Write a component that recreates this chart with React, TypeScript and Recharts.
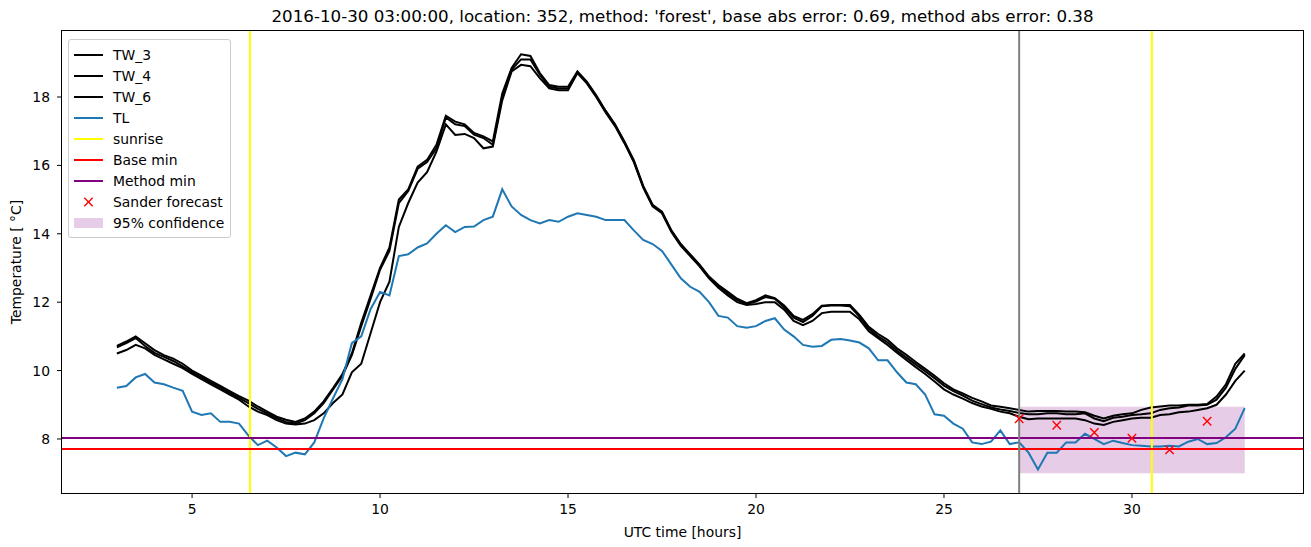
import { ComposedChart, Line, Scatter, XAxis, YAxis, ReferenceLine, ReferenceArea, Legend } from 'recharts';

// time grid, 15 min steps from 03:00 to 33:00
const hours = Array.from({ length: 121 }, (_, i) => 3 + i * 0.25);

const tw3 = [
  10.72, 10.85, 11.0, 10.8, 10.6, 10.45, 10.35, 10.2,
  10.0, 9.85, 9.7, 9.55, 9.4, 9.25, 9.12, 8.95,
  8.8, 8.65, 8.56, 8.5, 8.6, 8.8, 9.1, 9.49,
  9.9, 10.5, 11.4, 12.2, 13.0, 13.6, 15.0, 15.3,
  15.96, 16.16, 16.6, 17.45, 17.28, 17.2, 16.95, 16.85,
  16.7, 18.1, 18.85, 19.25, 19.2, 18.7, 18.35, 18.3,
  18.3, 18.75, 18.45, 18.05, 17.6, 17.2, 16.7, 16.15,
  15.4, 14.85, 14.65, 14.1, 13.7, 13.4, 13.1, 12.75,
  12.5, 12.3, 12.1, 11.97, 12.06, 12.2, 12.12, 11.9,
  11.6, 11.48, 11.65, 11.9, 11.92, 11.92, 11.92, 11.63,
  11.28, 11.07, 10.9, 10.65, 10.46, 10.25, 10.05, 9.85,
  9.63, 9.45, 9.33, 9.2, 9.1, 8.98, 8.94, 8.9,
  8.85, 8.8, 8.82, 8.82, 8.82, 8.8, 8.8, 8.78,
  8.68, 8.6, 8.68, 8.72, 8.75, 8.85, 8.92, 8.95,
  8.98, 8.98, 9.0, 9.0, 9.02, 9.24, 9.6, 10.2, 10.5,
];

const tw4 = [
  10.68, 10.8, 10.95, 10.72, 10.52, 10.4, 10.28, 10.12,
  9.95, 9.8, 9.65, 9.5, 9.35, 9.2, 9.05, 8.88,
  8.75, 8.6, 8.5, 8.45, 8.55, 8.75, 9.05, 9.45,
  9.85, 10.45, 11.3, 12.1, 12.95, 13.5, 14.9, 15.25,
  15.9, 16.1, 16.5, 17.4, 17.2, 17.15, 16.9, 16.8,
  16.6, 18.0, 18.8, 19.1, 19.1, 18.65, 18.3, 18.25,
  18.25, 18.72, 18.42, 18.02, 17.58, 17.18, 16.68, 16.12,
  15.38, 14.82, 14.62, 14.08, 13.68, 13.38, 13.07, 12.72,
  12.47, 12.26, 12.06, 11.95, 12.02, 12.15, 12.1, 11.85,
  11.55, 11.42, 11.6, 11.88, 11.9, 11.9, 11.88, 11.58,
  11.22, 11.0, 10.82, 10.58, 10.38, 10.18, 9.98, 9.78,
  9.56, 9.4, 9.27, 9.12, 9.02, 8.92, 8.86, 8.82,
  8.76, 8.72, 8.72, 8.75, 8.75, 8.72, 8.72, 8.75,
  8.6, 8.52, 8.62, 8.65, 8.7, 8.72, 8.75, 8.85,
  8.9, 8.92, 8.98, 8.98, 9.0, 9.15, 9.5, 10.05, 10.45,
];

const tw6 = [
  10.5, 10.6, 10.75, 10.65, 10.46, 10.33, 10.2, 10.07,
  9.9, 9.75, 9.6, 9.45, 9.3, 9.15, 8.95, 8.8,
  8.7, 8.55, 8.45, 8.42, 8.45, 8.55, 8.75, 9.05,
  9.3, 9.95, 10.2, 11.1, 12.0, 12.6, 14.2, 14.9,
  15.5, 15.8, 16.4, 17.2, 16.89, 16.92, 16.8, 16.5,
  16.55, 17.9, 18.75, 18.94, 18.9, 18.55, 18.25, 18.2,
  18.2, 18.7, 18.4, 18.0, 17.55, 17.15, 16.65, 16.1,
  15.35, 14.8, 14.6, 14.05, 13.65, 13.35, 13.05, 12.7,
  12.42, 12.2, 12.0, 11.92, 11.95, 12.0, 12.0, 11.78,
  11.45, 11.33, 11.45, 11.68, 11.72, 11.72, 11.72, 11.5,
  11.15, 10.95, 10.75, 10.52, 10.31, 10.1, 9.9, 9.68,
  9.45, 9.3, 9.18, 9.05, 8.95, 8.88, 8.8, 8.75,
  8.65, 8.58, 8.6, 8.6, 8.6, 8.6, 8.6, 8.55,
  8.45, 8.41, 8.5, 8.55, 8.6, 8.62, 8.62, 8.7,
  8.72, 8.78, 8.8, 8.85, 8.9, 9.0, 9.3, 9.7, 10.0,
];

const tl = [
  9.5, 9.55, 9.8, 9.9, 9.65, 9.6, 9.5, 9.41,
  8.8, 8.7, 8.75, 8.5, 8.5, 8.45, 8.1, 7.82,
  7.95, 7.75, 7.5, 7.6, 7.55, 7.9, 8.6, 9.19,
  9.75, 10.8, 11.0, 11.8, 12.3, 12.2, 13.35, 13.4,
  13.6, 13.72, 14.0, 14.25, 14.05, 14.2, 14.21, 14.4,
  14.5, 15.3, 14.8, 14.55, 14.4, 14.3, 14.4, 14.35,
  14.5, 14.6, 14.55, 14.5, 14.4, 14.4, 14.4, 14.1,
  13.82, 13.7, 13.5, 13.1, 12.7, 12.45, 12.3, 12.0,
  11.6, 11.55, 11.3, 11.25, 11.3, 11.45, 11.53, 11.2,
  11.0, 10.75, 10.7, 10.72, 10.9, 10.92, 10.88, 10.82,
  10.65, 10.3, 10.3, 9.95, 9.65, 9.6, 9.3, 8.72,
  8.68, 8.45, 8.3, 7.9, 7.85, 7.92, 8.25, 7.85,
  7.9, 7.6, 7.11, 7.6, 7.6, 7.9, 7.9, 8.15,
  8.0, 7.85, 7.95, 7.88, 7.82, 7.8, 7.78, 7.78,
  7.8, 7.78, 7.92, 8.0, 7.85, 7.88, 8.05, 8.3, 8.9,
];

const sanderHours = [27, 28, 29, 30, 31, 32];
const sanderValues = [8.59, 8.4, 8.19, 8.02, 7.68, 8.52];

const sunrises = [6.54, 30.53];
const forecastStart = 27;
const baseMin = 7.71;
const methodMin = 8.03;
const confidence = { x1: 27, x2: 33, low: 7.0, high: 8.94 };

const xTicks = [5, 10, 15, 20, 25, 30];
const yTicks = [8, 10, 12, 14, 16, 18];

const legendItems = [
  { label: 'TW_3', kind: 'line', color: '#000000' },
  { label: 'TW_4', kind: 'line', color: '#000000' },
  { label: 'TW_6', kind: 'line', color: '#000000' },
  { label: 'TL', kind: 'line', color: '#1f77b4' },
  { label: 'sunrise', kind: 'line', color: '#ffff00' },
  { label: 'Base min', kind: 'line', color: '#ff0000' },
  { label: 'Method min', kind: 'line', color: '#800080' },
  { label: 'Sander forecast', kind: 'x', color: '#ff0000' },
  { label: '95% confidence', kind: 'patch', color: '#800080' },
];

const chartData = hours.map((h, i) => ({ h, tw3: tw3[i], tw4: tw4[i], tw6: tw6[i], tl: tl[i] }));
const sanderData = sanderHours.map((h, i) => ({ h, sander: sanderValues[i] }));

const FONT = '"DejaVu Sans", sans-serif';

const XMark = (props: any) => {
  const { cx, cy } = props;
  const r = 4.2;
  return (
    <g stroke="#ff0000" strokeWidth={1.4}>
      <line x1={cx - r} y1={cy - r} x2={cx + r} y2={cy + r} />
      <line x1={cx - r} y1={cy + r} x2={cx + r} y2={cy - r} />
    </g>
  );
};

const renderLegend = () => (
  <div
    style={{
      border: '1px solid #cccccc',
      borderRadius: 3,
      background: 'rgba(255,255,255,0.8)',
      padding: '4px 6px 4px 5px',
      fontFamily: FONT,
      fontSize: 13.9,
      color: '#000',
    }}
  >
    {legendItems.map(item => (
      <div key={item.label} style={{ display: 'flex', alignItems: 'center', height: 21 }}>
        <svg width={29} height={12} style={{ marginRight: 10 }}>
          {item.kind === 'line' && <line x1={0} y1={6} x2={29} y2={6} stroke={item.color} strokeWidth={2} />}
          {item.kind === 'x' && (
            <g stroke={item.color} strokeWidth={1.4}>
              <line x1={10.3} y1={1.8} x2={18.7} y2={10.2} />
              <line x1={10.3} y1={10.2} x2={18.7} y2={1.8} />
            </g>
          )}
          {item.kind === 'patch' && <rect x={0} y={1} width={29} height={10} fill={item.color} fillOpacity={0.2} />}
        </svg>
        <span style={{ whiteSpace: 'nowrap' }}>{item.label}</span>
      </div>
    ))}
  </div>
);

const YLabel = () => (
  <text x={17} y={262} transform="rotate(-90 17 262)" textAnchor="middle" dominantBaseline="middle"
    fontFamily={FONT} fontSize={13.9} fill="#000">
    Temperature [ °C]
  </text>
);

export default function App() {
  const tickStyle = { fontFamily: FONT, fontSize: 13.9, fill: '#000' };
  return (
    <div style={{ position: 'absolute', left: 0, top: 0, width: 1311, height: 547, background: '#fff' }}>
      <div
        style={{
          position: 'absolute', left: 62, top: 6, width: 1241, textAlign: 'center',
          fontFamily: FONT, fontSize: 16.7, lineHeight: '20px', color: '#000', whiteSpace: 'nowrap',
        }}
      >
        2016-10-30 03:00:00, location: 352, method: 'forest', base abs error: 0.69, method abs error: 0.38
      </div>
      <ComposedChart width={1311} height={547} data={chartData} margin={{ top: 31, right: 8, bottom: 0, left: 0 }}>
        <XAxis
          dataKey="h"
          type="number"
          domain={[1.54, 34.55]}
          ticks={xTicks}
          allowDataOverflow
          height={54}
          axisLine={false}
          tickLine={{ stroke: '#000' }}
          tickSize={5}
          tickMargin={6}
          tick={tickStyle}
          label={{ value: 'UTC time [hours]', position: 'insideBottom', offset: 10, style: tickStyle }}
        />
        <YAxis
          type="number"
          domain={[6.42, 19.93]}
          ticks={yTicks}
          allowDataOverflow
          width={62}
          axisLine={false}
          tickLine={{ stroke: '#000' }}
          tickSize={5}
          tickMargin={7}
          tick={tickStyle}
          label={{ content: () => <YLabel /> }}
        />
        <Line dataKey="tw3" stroke="#000" strokeWidth={2} dot={false} isAnimationActive={false} />
        <Line dataKey="tw4" stroke="#000" strokeWidth={2} dot={false} isAnimationActive={false} />
        <Line dataKey="tw6" stroke="#000" strokeWidth={2} dot={false} isAnimationActive={false} />
        <Line dataKey="tl" stroke="#1f77b4" strokeWidth={2} dot={false} isAnimationActive={false} />
        {sunrises.map(s => (
          <ReferenceLine key={s} x={s} stroke="#ffff00" strokeWidth={2} />
        ))}
        <ReferenceLine y={baseMin} stroke="#ff0000" strokeWidth={2} />
        <ReferenceLine y={methodMin} stroke="#800080" strokeWidth={2} />
        <ReferenceLine x={forecastStart} stroke="#808080" strokeWidth={2} />
        <ReferenceArea
          x1={confidence.x1}
          x2={confidence.x2}
          y1={confidence.low}
          y2={confidence.high}
          fill="#800080"
          fillOpacity={0.2}
          stroke="none"
        />
        <Scatter data={sanderData} dataKey="sander" shape={<XMark />} isAnimationActive={false} />
        <Legend
          layout="vertical"
          align="center"
          verticalAlign="middle"
          content={renderLegend}
          wrapperStyle={{ left: 68, top: 39, width: 'auto', height: 'auto' }}
        />
      </ComposedChart>
      <div
        style={{
          position: 'absolute', left: 61, top: 30, width: 1243, height: 464,
          border: '1px solid #000', boxSizing: 'border-box', pointerEvents: 'none',
        }}
      />
    </div>
  );
}
